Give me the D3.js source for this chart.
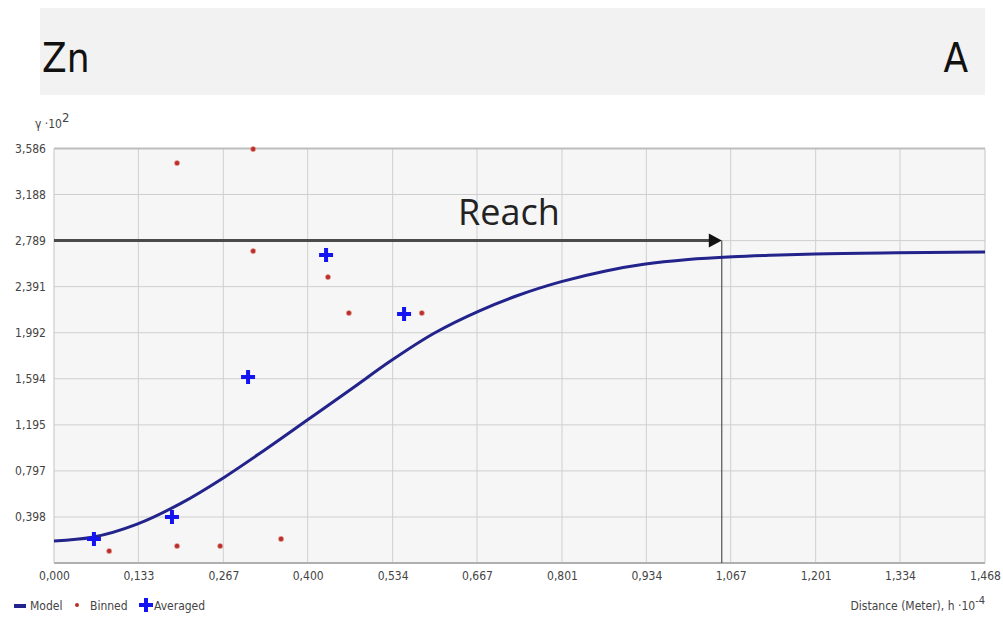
<!DOCTYPE html>
<html>
<head>
<meta charset="utf-8">
<style>
  body { margin: 0; background: #fff; }
  svg { display: block; }
  .tick text { font-family: 'Liberation Sans Narrow', 'DejaVu Sans Condensed', sans-serif; font-size: 12px; fill: #444; }
  .lbl { font-family: 'Liberation Sans Narrow', 'DejaVu Sans Condensed', sans-serif; font-size: 12px; fill: #444; }
</style>
</head>
<body>
<svg width="1003" height="619"></svg>
<script src="https://d3js.org/d3.v7.min.js"></script>
<script>
// semivariogram values (h in 10^4 m, gamma in 10^2)
const modelH     = [0, 0.06, 0.13, 0.20, 0.27, 0.33, 0.40, 0.47, 0.53, 0.60, 0.67, 0.73, 0.80, 0.87, 0.93, 1.00, 1.07, 1.13, 1.20, 1.33, 1.468];
const modelGamma = [0.190, 0.222, 0.334, 0.516, 0.747, 0.969, 1.239, 1.510, 1.745, 1.990, 2.180, 2.312, 2.434, 2.527, 2.584, 2.626, 2.650, 2.663, 2.674, 2.684, 2.690];

const binnedH     = [0.087, 0.194, 0.262, 0.358, 0.194, 0.314, 0.314, 0.432, 0.465, 0.580];
const binnedGamma = [0.104, 0.147, 0.147, 0.208, 3.460, 3.581, 2.699, 2.474, 2.163, 2.163];

const avgH     = [0.063, 0.186, 0.306, 0.429, 0.552];
const avgGamma = [0.208, 0.398, 1.609, 2.664, 2.154];

const xTicks = [0, 0.133, 0.267, 0.400, 0.534, 0.667, 0.801, 0.934, 1.067, 1.201, 1.334, 1.468];
const yTicks = [0.398, 0.797, 1.195, 1.594, 1.992, 2.391, 2.789, 3.188, 3.586];

const reachGamma = 2.789;
const reachH = 1.053;

const svg = d3.select("svg");
const margin = { left: 54, right: 18, top: 148, bottom: 56 };
const W = 1003, H = 619;

const fmt = d3.formatLocale({ decimal: ",", thousands: ".", grouping: [3], currency: ["", ""] }).format(".3f");

const x = d3.scaleLinear().domain([0, 1.468]).range([margin.left, W - margin.right]);
const y = d3.scaleLinear().domain([0, 3.586]).range([H - margin.bottom, margin.top + 0.5]);

// title banner
svg.append("rect").attr("x", 40).attr("y", 8).attr("width", 945).attr("height", 87).attr("fill", "#f2f2f2");
svg.append("text").attr("x", 42).attr("y", 72)
  .attr("font-family", "'DejaVu Sans Condensed', sans-serif").attr("font-size", 40).attr("fill", "#111")
  .text("Zn");
svg.append("text").attr("x", 968).attr("y", 72).attr("text-anchor", "end")
  .attr("font-family", "'DejaVu Sans Condensed', sans-serif").attr("font-size", 40).attr("fill", "#111")
  .text("A");

// plot background
svg.append("rect")
  .attr("x", x(0)).attr("y", y(3.586))
  .attr("width", x(1.468) - x(0)).attr("height", y(0) - y(3.586))
  .attr("fill", "#f6f6f7");

// grid
svg.append("g").selectAll("line").data(xTicks.slice(1, -1)).join("line")
  .attr("x1", d => x(d)).attr("x2", d => x(d))
  .attr("y1", y(3.586)).attr("y2", y(0))
  .attr("stroke", "#cfcfcf").attr("stroke-width", 1);
svg.append("g").selectAll("line").data(yTicks.slice(0, -1)).join("line")
  .attr("x1", x(0)).attr("x2", x(1.468))
  .attr("y1", d => y(d)).attr("y2", d => y(d))
  .attr("stroke", "#cfcfcf").attr("stroke-width", 1);

// frame
svg.append("line").attr("x1", x(0)).attr("x2", x(1.468)).attr("y1", y(3.586)).attr("y2", y(3.586))
  .attr("stroke", "#bdbdbd").attr("stroke-width", 2);
svg.append("line").attr("x1", x(0)).attr("x2", x(1.468)).attr("y1", y(0)).attr("y2", y(0))
  .attr("stroke", "#b0b0b0").attr("stroke-width", 2);
svg.append("line").attr("x1", x(0)).attr("x2", x(0)).attr("y1", y(3.586)).attr("y2", y(0))
  .attr("stroke", "#c4c4c4").attr("stroke-width", 1);
svg.append("line").attr("x1", x(1.468)).attr("x2", x(1.468)).attr("y1", y(3.586)).attr("y2", y(0))
  .attr("stroke", "#c4c4c4").attr("stroke-width", 1);

// axes
svg.append("g")
  .attr("transform", `translate(0,${y(0)})`)
  .call(d3.axisBottom(x).tickValues(xTicks).tickFormat(fmt).tickSize(0).tickPadding(8))
  .call(g => g.select(".domain").remove());
svg.append("g")
  .attr("transform", `translate(${x(0)},0)`)
  .call(d3.axisLeft(y).tickValues(yTicks).tickFormat(fmt).tickSize(0).tickPadding(8))
  .call(g => g.select(".domain").remove());

// y label
const yl = svg.append("text").attr("class", "lbl").attr("x", 35).attr("y", 128);
yl.append("tspan").text("γ ·10");
yl.append("tspan").attr("dy", -6).attr("font-size", 13).text("2");

// x label
const xl = svg.append("text").attr("class", "lbl").attr("x", 985).attr("y", 610).attr("text-anchor", "end");
xl.append("tspan").text("Distance (Meter), h ·10");
xl.append("tspan").attr("dy", -6).attr("font-size", 11).text("-4");

// reach lines
svg.append("line")
  .attr("x1", x(reachH)).attr("x2", x(reachH))
  .attr("y1", y(reachGamma)).attr("y2", y(0))
  .attr("stroke", "#333").attr("stroke-width", 1);
svg.append("line")
  .attr("x1", x(0)).attr("x2", x(reachH) - 12)
  .attr("y1", y(reachGamma)).attr("y2", y(reachGamma))
  .attr("stroke", "#4a4a4a").attr("stroke-width", 3);
svg.append("path")
  .attr("d", `M${x(reachH)},${y(reachGamma)} l-13,-7 l0,14 z`)
  .attr("fill", "#111");
svg.append("text")
  .attr("x", 509).attr("y", 225).attr("text-anchor", "middle")
  .attr("font-family", "'Open Sans', sans-serif").attr("font-size", 36).attr("fill", "#222")
  .text("Reach");

// model curve
const modelPts = modelH.map((h, i) => [h, modelGamma[i]]);
svg.append("path")
  .datum(modelPts)
  .attr("fill", "none")
  .attr("stroke", "#23238c")
  .attr("stroke-width", 3)
  .attr("d", d3.line().x(d => x(d[0])).y(d => y(d[1])).curve(d3.curveMonotoneX));

// binned dots
svg.append("g").selectAll("circle").data(binnedH.map((h, i) => [h, binnedGamma[i]])).join("circle")
  .attr("cx", d => x(d[0])).attr("cy", d => y(d[1]))
  .attr("r", 2.6)
  .attr("fill", "#b8302a")
  .attr("stroke", "#f0a8a0").attr("stroke-width", 0.6);

// averaged crosses
const cross = "M-7,-2 h5 v-5 h4 v5 h5 v4 h-5 v5 h-4 v-5 h-5 z";
svg.append("g").selectAll("path").data(avgH.map((h, i) => [h, avgGamma[i]])).join("path")
  .attr("transform", d => `translate(${x(d[0])},${y(d[1])})`)
  .attr("d", cross)
  .attr("fill", "#1414f0");

// legend
const lg = svg.append("g").attr("transform", "translate(0,606)");
lg.append("line").attr("x1", 14).attr("x2", 26).attr("y1", 0).attr("y2", 0)
  .attr("stroke", "#23238c").attr("stroke-width", 4);
lg.append("text").attr("class", "lbl").attr("x", 30).attr("y", 4).text("Model");
lg.append("circle").attr("cx", 77).attr("cy", -1).attr("r", 2).attr("fill", "#b8302a");
lg.append("text").attr("class", "lbl").attr("x", 90).attr("y", 4).text("Binned");
lg.append("path").attr("transform", "translate(146,-1)").attr("d", cross).attr("fill", "#1414f0");
lg.append("text").attr("class", "lbl").attr("x", 154).attr("y", 4).text("Averaged");
</script>
</body>
</html>
